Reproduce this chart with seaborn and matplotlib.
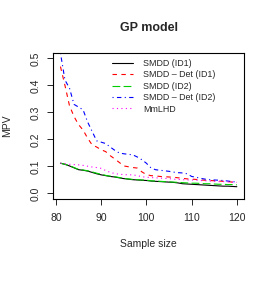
import numpy as np
import pandas as pd
import matplotlib
matplotlib.use("Agg")
import matplotlib.pyplot as plt
import seaborn as sns

# sample sizes 81..120
sample_size = list(range(81, 121))

smdd_id1 = [0.112, 0.108, 0.102, 0.095, 0.088, 0.086, 0.083, 0.078, 0.073, 0.069,
            0.066, 0.063, 0.061, 0.058, 0.055, 0.053, 0.051, 0.050, 0.049, 0.048,
            0.046, 0.045, 0.044, 0.043, 0.042, 0.041, 0.039, 0.036, 0.035, 0.034,
            0.033, 0.032, 0.031, 0.030, 0.029, 0.028, 0.027, 0.027, 0.026, 0.025]
smdd_det_id1 = [0.470, 0.400, 0.325, 0.285, 0.255, 0.235, 0.205, 0.180, 0.172, 0.162,
                0.155, 0.140, 0.128, 0.115, 0.102, 0.099, 0.096, 0.094, 0.080, 0.070,
                0.066, 0.065, 0.063, 0.062, 0.061, 0.060, 0.058, 0.056, 0.054, 0.053,
                0.052, 0.050, 0.049, 0.048, 0.047, 0.046, 0.045, 0.044, 0.042, 0.036]
smdd_id2 = [0.112, 0.108, 0.103, 0.096, 0.089, 0.087, 0.084, 0.080, 0.075, 0.071,
            0.067, 0.064, 0.062, 0.059, 0.056, 0.054, 0.052, 0.051, 0.050, 0.049,
            0.047, 0.046, 0.045, 0.044, 0.043, 0.042, 0.041, 0.040, 0.039, 0.038,
            0.038, 0.037, 0.036, 0.036, 0.035, 0.034, 0.034, 0.033, 0.033, 0.032]
smdd_det_id2 = [0.520, 0.420, 0.390, 0.330, 0.320, 0.310, 0.265, 0.230, 0.195, 0.190,
                0.185, 0.172, 0.160, 0.150, 0.147, 0.145, 0.143, 0.135, 0.125, 0.112,
                0.095, 0.088, 0.086, 0.084, 0.082, 0.079, 0.077, 0.076, 0.073, 0.063,
                0.060, 0.056, 0.053, 0.051, 0.050, 0.049, 0.048, 0.046, 0.044, 0.042]
mmlhd = [0.112, 0.110, 0.108, 0.107, 0.106, 0.104, 0.101, 0.098, 0.096, 0.093,
         0.085, 0.078, 0.074, 0.071, 0.070, 0.069, 0.069, 0.066, 0.062, 0.060,
         0.059, 0.058, 0.057, 0.056, 0.055, 0.053, 0.052, 0.051, 0.050, 0.050,
         0.049, 0.048, 0.047, 0.046, 0.045, 0.044, 0.044, 0.043, 0.042, 0.041]

methods = ["SMDD (ID1)", "SMDD \u2013 Det (ID1)", "SMDD (ID2)", "SMDD \u2013 Det (ID2)", "MmLHD"]
series = [smdd_id1, smdd_det_id1, smdd_id2, smdd_det_id2, mmlhd]

df = pd.concat([pd.DataFrame({"Sample size": sample_size, "MPV": v, "Method": m})
                for m, v in zip(methods, series)], ignore_index=True)

colors = {methods[0]: "black", methods[1]: "#FF0000", methods[2]: "#00CD00",
          methods[3]: "#0000FF", methods[4]: "#FF00FF"}
dashes = {methods[0]: "", methods[1]: (4, 4), methods[2]: (7, 3),
          methods[3]: (1, 3, 4, 3), methods[4]: (1, 3)}

sns.set_style("white")
plt.rcParams["font.family"] = ["Liberation Sans", "DejaVu Sans"]

fig = plt.figure(figsize=(2.71, 3.05), dpi=100)
ax = fig.add_axes([0.197, 0.348, 0.703, 0.478])

sns.lineplot(data=df, x="Sample size", y="MPV", hue="Method", style="Method",
             palette=colors, dashes=dashes, linewidth=0.8, ax=ax)

ax.set_xlim(79.44, 121.56)
ax.set_ylim(-0.02, 0.52)
ax.set_xticks([80, 90, 100, 110, 120])
ax.set_yticks([0.0, 0.1, 0.2, 0.3, 0.4, 0.5])
ax.set_yticklabels(["0.0", "0.1", "0.2", "0.3", "0.4", "0.5"], rotation=90, va="center")
ax.tick_params(axis="both", direction="out", length=4, width=0.7, labelsize=7.5,
               left=True, bottom=True)
ax.tick_params(axis="x", pad=6)
ax.tick_params(axis="y", pad=5.5)
for s in ax.spines.values():
    s.set_color("black")
    s.set_linewidth(0.8)

ax.set_title("GP model", fontsize=9, fontweight="bold", pad=16)
ax.set_xlabel("Sample size", fontsize=7.5, labelpad=12)
ax.set_ylabel("MPV", fontsize=7.5, labelpad=13)

leg = ax.legend(loc="upper left", frameon=False, fontsize=6.4, handlelength=2.36,
                handletextpad=1.2, labelspacing=0.27, borderpad=0, borderaxespad=0,
                bbox_to_anchor=(0.3055, 0.96))

fig.savefig("out.png", dpi=100)
